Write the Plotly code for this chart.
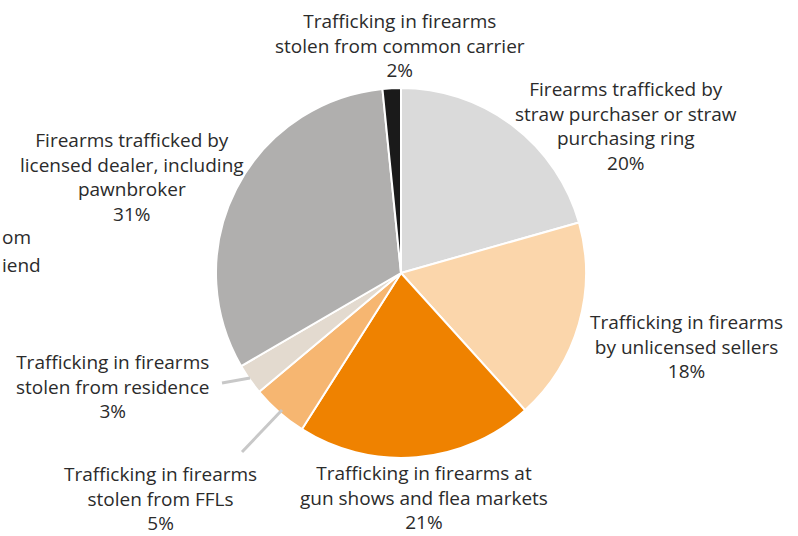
import plotly.graph_objects as go

labels = [
    "Firearms trafficked by straw purchaser or straw purchasing ring",
    "Trafficking in firearms by unlicensed sellers",
    "Trafficking in firearms at gun shows and flea markets",
    "Trafficking in firearms stolen from FFLs",
    "Trafficking in firearms stolen from residence",
    "Firearms trafficked by licensed dealer, including pawnbroker",
    "Trafficking in firearms stolen from common carrier",
]
values = [20.6, 17.7, 20.7, 4.9, 2.7, 31.8, 1.6]
# percentages as printed on the labels
pct_labels = ["20%", "18%", "21%", "5%", "3%", "31%", "2%"]
label_lines = [
    "Firearms trafficked by<br>straw purchaser or straw<br>purchasing ring",
    "Trafficking in firearms<br>by unlicensed sellers",
    "Trafficking in firearms at<br>gun shows and flea markets",
    "Trafficking in firearms<br>stolen from FFLs",
    "Trafficking in firearms<br>stolen from residence",
    "Firearms trafficked by<br>licensed dealer, including<br>pawnbroker",
    "Trafficking in firearms<br>stolen from common carrier",
]
colors = ["#dadada", "#fbd6ab", "#ef8200", "#f6b671", "#e3dacf", "#b0afae", "#1a1a1a"]
# fragments of a label cut off at the left edge of the reference
edge_fragments = ["om", "iend"]

W, H = 798, 536
FONT = "Open Sans"
TXT = "#2b2b2b"
FS = 19

fig = go.Figure()
cx, cy, r = 401, 273, 185
fig.add_trace(go.Pie(
    labels=labels, values=values, sort=False, direction="clockwise", rotation=0,
    marker=dict(colors=colors, line=dict(color="white", width=2)),
    textinfo="none", hoverinfo="label", showlegend=False,
    domain=dict(x=[(cx - r) / W, (cx + r) / W], y=[(H - cy - r) / H, (H - cy + r) / H]),
))

def px(x, y):
    return x / W, 1 - y / H

# label centres (px)
pos = [(626, 126), (686, 346), (424, 497), (160, 498), (112, 386), (132, 177), (400, 45)]
for t, p, (x, y) in zip(label_lines, pct_labels, pos):
    ax, ay = px(x, y)
    fig.add_annotation(x=ax, y=ay, xref="paper", yref="paper", text=t + "<br>" + p,
                       showarrow=False, xanchor="center", yanchor="middle", align="center",
                       font=dict(family=FONT, size=FS, color=TXT))

for t, x, y in zip(edge_fragments, [0, 0], [237, 265]):
    ax, ay = px(x, y)
    fig.add_annotation(x=ax, y=ay, xref="paper", yref="paper", text=t, showarrow=False,
                       xanchor="left", yanchor="middle", xshift=0,
                       font=dict(family=FONT, size=FS, color=TXT))

# leader lines
for (x0, y0, x1, y1) in [(222, 383, 250, 378), (242, 452, 282, 410)]:
    a0, b0 = px(x0, y0)
    a1, b1 = px(x1, y1)
    fig.add_shape(type="line", xref="paper", yref="paper", x0=a0, y0=b0, x1=a1, y1=b1,
                  line=dict(color="#c8c8c8", width=3))

fig.update_layout(width=W, height=H, margin=dict(l=0, r=0, t=0, b=0),
                  paper_bgcolor="white", plot_bgcolor="white")
fig.write_html("out.html")
